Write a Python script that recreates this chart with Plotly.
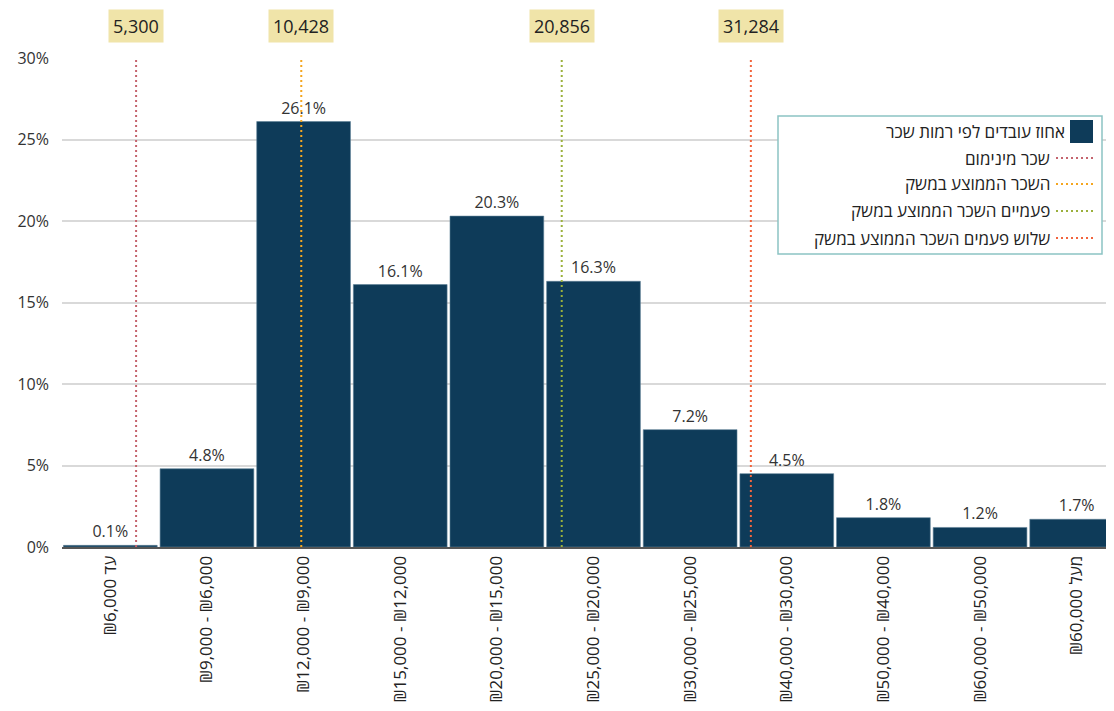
import plotly.graph_objects as go

# ---- data ----
categories = ["₪6,000 עד", "₪9,000 - ₪6,000", "₪12,000 - ₪9,000", "₪15,000 - ₪12,000",
              "₪20,000 - ₪15,000", "₪25,000 - ₪20,000", "₪30,000 - ₪25,000",
              "₪40,000 - ₪30,000", "₪50,000 - ₪40,000", "₪60,000 - ₪50,000", "₪60,000 מעל"]
bin_edges = [3000, 6000, 9000, 12000, 15000, 20000, 25000, 30000, 40000, 50000, 60000, 70000]
shares = [0.1, 4.8, 26.1, 16.1, 20.3, 16.3, 7.2, 4.5, 1.8, 1.2, 1.7]
bar_name = "אחוז עובדים לפי רמות שכר"

ref_values = [5300, 10428, 20856, 31284]
ref_labels = ["5,300", "10,428", "20,856", "31,284"]
ref_names = ["שכר מינימום", "השכר הממוצע במשק", "פעמיים השכר הממוצע במשק", "שלוש פעמים השכר הממוצע במשק"]
ref_colors = ["#c4646e", "#f5a61f", "#9bb03c", "#f2643c"]

y_ticks = [0, 5, 10, 15, 20, 25, 30]
y_ticktext = ["0%", "5%", "10%", "15%", "20%", "25%", "30%"]

BAR_COLOR = "#0e3b59"
FONT = "Open Sans, DejaVu Sans, sans-serif"

OFF = 8  # default page body margin
# plot area in window pixels
PX0, PX1, PY0, PY1 = 62, 1125, 58, 547
W, H = PX1 - OFF, 711 - 2 * OFF
ML, MR, MT, MB = PX0 - OFF, 0, PY0 - OFF, H + OFF - PY1


def px(x):
    return (x - PX0) / (PX1 - PX0)


def py(y):
    return (PY1 - y) / (PY1 - PY0)


def wage_pos(v):
    # linear interpolation inside bin -> category coordinate
    for i in range(len(bin_edges) - 1):
        if bin_edges[i] <= v < bin_edges[i + 1]:
            frac = (v - bin_edges[i]) / (bin_edges[i + 1] - bin_edges[i])
            return i - 0.5 + frac
    return len(categories) - 0.5


fig = go.Figure()
fig.add_trace(go.Bar(
    x=categories, y=shares, name=bar_name,
    marker=dict(color=BAR_COLOR, line=dict(color="#5d7f95", width=0.6)),
    text=[f"{v:.1f}%" for v in shares], textposition="outside",
    textfont=dict(size=16, color="#333333", family=FONT),
    cliponaxis=False, showlegend=False,
))

shapes = []
annotations = []
for v, lab, col in zip(ref_values, ref_labels, ref_colors):
    xp = wage_pos(v)
    shapes.append(dict(type="line", xref="x", yref="y", x0=xp, x1=xp, y0=0, y1=30,
                       line=dict(color=col, width=2, dash="2px,3px"), layer="above"))
    annotations.append(dict(xref="x", yref="paper", x=xp, y=py(26), text=lab,
                            showarrow=False, bgcolor="#f0e4a9",
                            font=dict(size=18, color="#222222", family=FONT),
                            borderpad=4, yanchor="middle"))

# manual right-to-left legend
shapes.append(dict(type="rect", xref="paper", yref="paper", x0=px(778), x1=px(1102),
                   y0=py(254), y1=py(116), line=dict(color="#8cc3c4", width=1.5),
                   fillcolor="white", layer="above"))
shapes.append(dict(type="rect", xref="paper", yref="paper", x0=px(1070), x1=px(1093),
                   y0=py(143), y1=py(120), line=dict(width=0), fillcolor=BAR_COLOR, layer="above"))
annotations.append(dict(xref="paper", yref="paper", x=px(1067), y=py(131), text=bar_name,
                        showarrow=False, xanchor="right", yanchor="middle",
                        font=dict(size=17, color="#222222", family=FONT)))
row_y = [158, 184, 211, 238]
for name, col, ry in zip(ref_names, ref_colors, row_y):
    shapes.append(dict(type="line", xref="paper", yref="paper", x0=px(1056), x1=px(1094),
                       y0=py(ry), y1=py(ry), line=dict(color=col, width=2, dash="2px,3px"),
                       layer="above"))
    annotations.append(dict(xref="paper", yref="paper", x=px(1052), y=py(ry), text=name,
                            showarrow=False, xanchor="right", yanchor="middle",
                            font=dict(size=17, color="#222222", family=FONT)))

fig.update_layout(
    width=W, height=H,
    margin=dict(l=ML, r=MR, t=MT, b=MB, pad=0, autoexpand=False),
    paper_bgcolor="white", plot_bgcolor="white",
    bargap=0.03,
    font=dict(family=FONT, size=15, color="#333333"),
    shapes=shapes, annotations=annotations,
    showlegend=False,
    xaxis=dict(tickangle=-90, showgrid=False, showline=True, linecolor="#555555", linewidth=2,
               ticks="", automargin=False, tickfont=dict(size=17, color="#222222", family=FONT)),
    yaxis=dict(range=[0, 30], tickvals=y_ticks, ticktext=y_ticktext, showgrid=True,
               gridcolor="#d9d9d9", gridwidth=2, zeroline=False, ticks="", ticklen=0,
               ticklabelstandoff=12,
               automargin=False, tickfont=dict(size=16, color="#333333", family=FONT)),
)

fig.write_html("out.html")
